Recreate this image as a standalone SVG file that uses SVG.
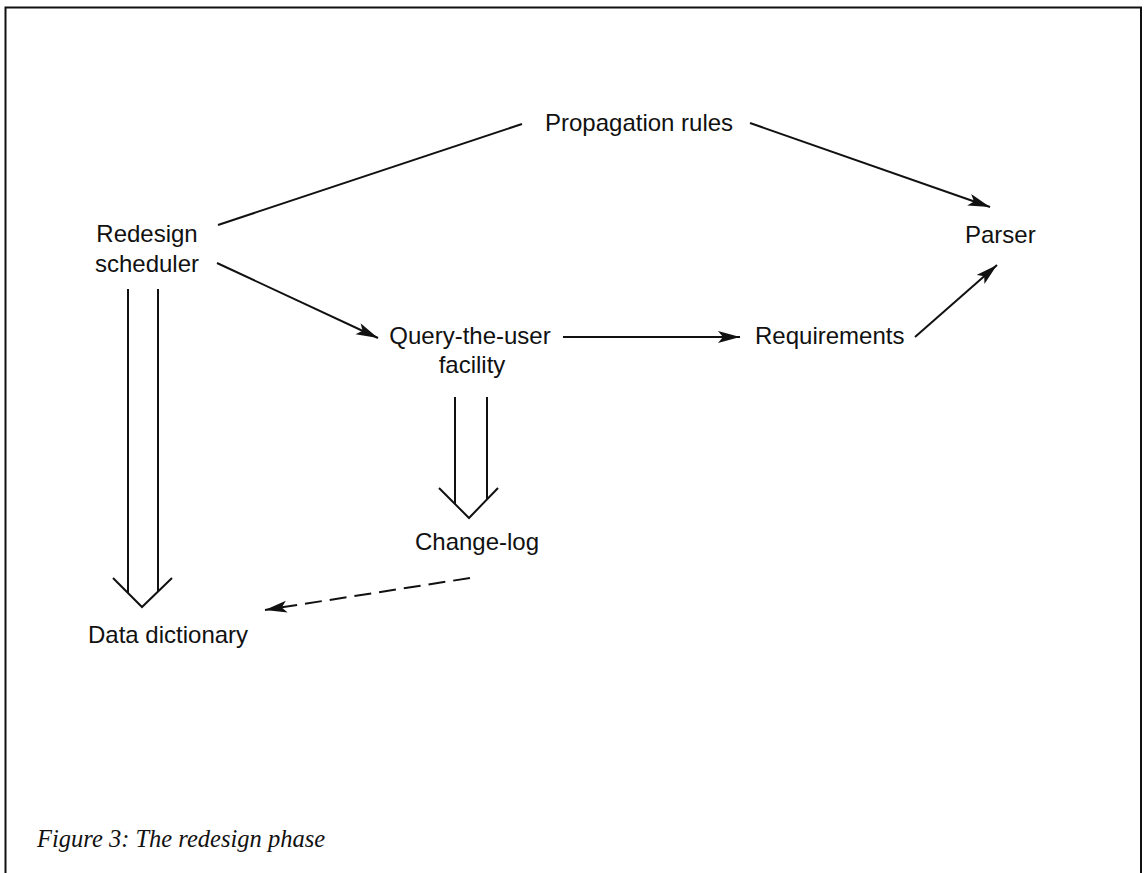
<svg xmlns="http://www.w3.org/2000/svg" width="1144" height="873" viewBox="0 0 1144 873">
<style>
.lbl{font-family:"Liberation Sans",Arial,sans-serif;font-size:24px;fill:#111;}
.cap{font-family:"Liberation Serif","Times New Roman",serif;font-style:italic;font-size:24.5px;fill:#111;}
.ln{stroke:#111;stroke-width:2;fill:none;}
.dash{stroke-dasharray:17 8;}
</style>
<defs>
<marker id="ah" markerUnits="userSpaceOnUse" markerWidth="24" markerHeight="14" refX="22" refY="6" orient="auto">
<path d="M0,0 L22,6 L0,12 L5,6 Z" fill="#111"/>
</marker>
</defs>
<rect width="1144" height="873" fill="#fff"/>
<path class="ln" d="M5.5,880 V7.5 H1141 V880"/>

<g id="propagation"><text class="lbl" x="545" y="131">Propagation rules</text></g>
<g id="redesign"><text class="lbl" x="147" y="242" text-anchor="middle">Redesign</text><text class="lbl" x="147" y="272" text-anchor="middle">scheduler</text></g>
<g id="parser"><text class="lbl" x="965" y="243">Parser</text></g>
<g id="query"><text class="lbl" x="470" y="344" text-anchor="middle">Query-the-user</text><text class="lbl" x="472" y="373" text-anchor="middle">facility</text></g>
<g id="requirements"><text class="lbl" x="755" y="344">Requirements</text></g>
<g id="changelog"><text class="lbl" x="477" y="550" text-anchor="middle">Change-log</text></g>
<g id="datadict"><text class="lbl" x="88" y="643">Data dictionary</text></g>
<g id="caption"><text class="cap" x="37" y="847">Figure 3: The redesign phase</text></g>

<g id="connectors">
<line class="ln" x1="218" y1="225" x2="522" y2="124"/>
<line class="ln" x1="750" y1="123" x2="990" y2="207" marker-end="url(#ah)"/>
<line class="ln" x1="217" y1="263" x2="378" y2="338" marker-end="url(#ah)"/>
<line class="ln" x1="563" y1="337" x2="740" y2="337" marker-end="url(#ah)"/>
<line class="ln" x1="915" y1="337" x2="997" y2="265" marker-end="url(#ah)"/>
<path class="ln" d="M128,289 V593 M158,289 V592 M113,578 L142,607 L172,578"/>
<path class="ln" d="M455,397 V504 M487,397 V499 M439,488 L469,518 L498,488"/>
<line class="ln dash" x1="470" y1="578" x2="265" y2="610" marker-end="url(#ah)"/>
</g>
</svg>
